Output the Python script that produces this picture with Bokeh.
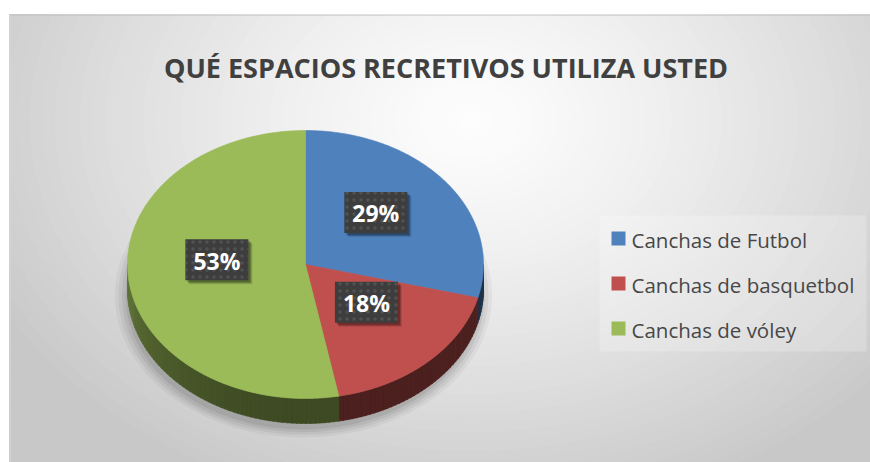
import numpy as np
from bokeh.plotting import figure
from bokeh.models import Range1d
from bokeh.core.properties import value
from bokeh.embed import file_html
from bokeh.resources import INLINE

# ---------------- data ----------------
title_text = "QUÉ ESPACIOS RECRETIVOS UTILIZA USTED"
categories = ["Canchas de Futbol", "Canchas de basquetbol", "Canchas de vóley"]
shares = [29, 18, 53]  # percent
colors = ["#4f81bd", "#c0504d", "#9bbb59"]

# ---------------- layout (screenshot pixel coordinates) ----------------
W, H = 870, 462
X0, X1, Y0, Y1 = 9, W, 14, H
p = figure(width=W, height=H, output_backend="svg", toolbar_location=None,
           x_range=Range1d(X0, X1), y_range=Range1d(Y1, Y0),
           min_border_left=X0, min_border_top=Y0, min_border_right=0, min_border_bottom=0,
           x_axis_location=None, y_axis_location=None)
p.grid.visible = False
p.border_fill_color = "white"
p.background_fill_color = "#d0d0d0"
p.outline_line_color = None

# ---------------- background radial gradient ----------------
gcx, gcy, grx, gry = 470, 120, 560, 420
levels = np.linspace(1.35, 0.02, 60)
bw, bh, bc = [], [], []
for r in levels:
    g = int(round(max(200, 253 - 55 * r ** 1.3)))
    bw.append(2 * grx * r); bh.append(2 * gry * r); bc.append("#%02x%02x%02x" % (g, g, g))
p.ellipse(x=[gcx] * len(levels), y=[gcy] * len(levels), width=bw, height=bh,
          fill_color=bc, line_color=bc, line_width=1)
# chart-area border (top and left)
p.segment(x0=[X0, X0 + 0.5], y0=[Y0 + 0.5, Y0], x1=[X1, X0 + 0.5], y1=[Y0 + 0.5, Y1],
          line_color=["#bdbdbd", "#d9d9d9"], line_width=1)

# ---------------- pie geometry ----------------
cx, cy, a, b, depth = 305, 264, 178, 134, 25

def ex(t):
    return cx + a * np.sin(t)

def ey(t):
    return cy - b * np.cos(t)

# shadow
for sa, al in [(1.06, 0.04), (1.04, 0.05), (1.02, 0.06), (1.0, 0.07)]:
    p.ellipse(x=[cx - 2], y=[cy + depth + 6], width=[2 * a * sa], height=[2 * b * sa],
              fill_color="black", fill_alpha=al, line_color=None)

total = float(sum(shares))
bounds = np.concatenate([[0], np.cumsum(shares)]) / total * 2 * np.pi

def hex_to_rgb(h):
    h = h.lstrip("#")
    return [int(h[i:i + 2], 16) for i in (0, 2, 4)]

# side strips (front half only, pi/2 .. 3pi/2)
sxs, sys_, scol = [], [], []
for i, c in enumerate(colors):
    t1, t2 = bounds[i], bounds[i + 1]
    lo, hi = max(t1, np.pi / 2), min(t2, 3 * np.pi / 2)
    if hi <= lo:
        continue
    n = max(2, int(np.degrees(hi - lo) / 1.5))
    ts = np.linspace(lo, hi, n + 1)
    rgb = hex_to_rgb(c)
    for ta, tb in zip(ts[:-1], ts[1:]):
        deg = np.degrees(0.5 * (ta + tb))
        f = 0.40 + 0.24 * ((deg - 185) / 85.0) ** 1.6 if deg > 185 else 0.40
        col = "#%02x%02x%02x" % tuple(int(min(255, v * f)) for v in rgb)
        tt = np.linspace(ta, tb + 0.004, 3)
        xs = list(ex(tt)) + list(ex(tt[::-1]))
        ys = list(ey(tt)) + list(ey(tt[::-1]) + depth)
        sxs.append(xs); sys_.append(ys); scol.append(col)
p.patches(xs=sxs, ys=sys_, fill_color=scol, line_color=scol, line_width=0.6)

# top face
txs, tys = [], []
for i in range(len(shares)):
    tt = np.linspace(bounds[i], bounds[i + 1], 120)
    txs.append([cx] + list(ex(tt)))
    tys.append([cy] + list(ey(tt)))
p.patches(xs=txs, ys=tys, fill_color=colors, line_color=colors, line_width=0.6)

# ---------------- data labels ----------------
mids = 0.5 * (bounds[:-1] + bounds[1:])
lx = cx + 0.5 * a * np.sin(mids)
ly = cy - 0.5 * b * np.cos(mids) - 11
lab = ["%d%%" % round(s) for s in shares]
bwid, bhei = 63, 41
for off, al in [(4, 0.12), (3, 0.18), (2, 0.22)]:
    p.rect(x=lx + off, y=ly + off, width=bwid, height=bhei, fill_color="black",
           fill_alpha=al, line_color=None)
p.rect(x=lx, y=ly, width=bwid, height=bhei, fill_color="#3d3d3d", line_color=None,
       hatch_pattern="dot", hatch_color="#5a5a5a", hatch_scale=7, hatch_weight=1.2,
       hatch_alpha=0.7)
p.text(x=lx, y=ly + 1, text=lab, text_color="white", text_font=value("Open Sans"),
       text_font_style="bold", text_font_size="23px", text_align="center",
       text_baseline="middle")

# ---------------- legend ----------------
p.quad(left=[599], right=[866], top=[215], bottom=[351], fill_color="white",
       fill_alpha=0.22, line_color=None)
leg_y = [238, 283, 328]
p.rect(x=[618] * 3, y=leg_y, width=14, height=14, fill_color=colors, line_color=None)
p.text(x=[631] * 3, y=[v + 1 for v in leg_y], text=categories, text_color="#474747",
       text_font=value("Open Sans"), text_font_size="20.5px", text_align="left",
       text_baseline="middle")

# ---------------- title ----------------
p.text(x=[445.5], y=[67], text=[title_text], text_color="#404040",
       text_font=value("Open Sans"), text_font_style="bold", text_font_size="27px",
       text_align="center", text_baseline="alphabetic")

open("out.html", "w").write(file_html(p, INLINE))
